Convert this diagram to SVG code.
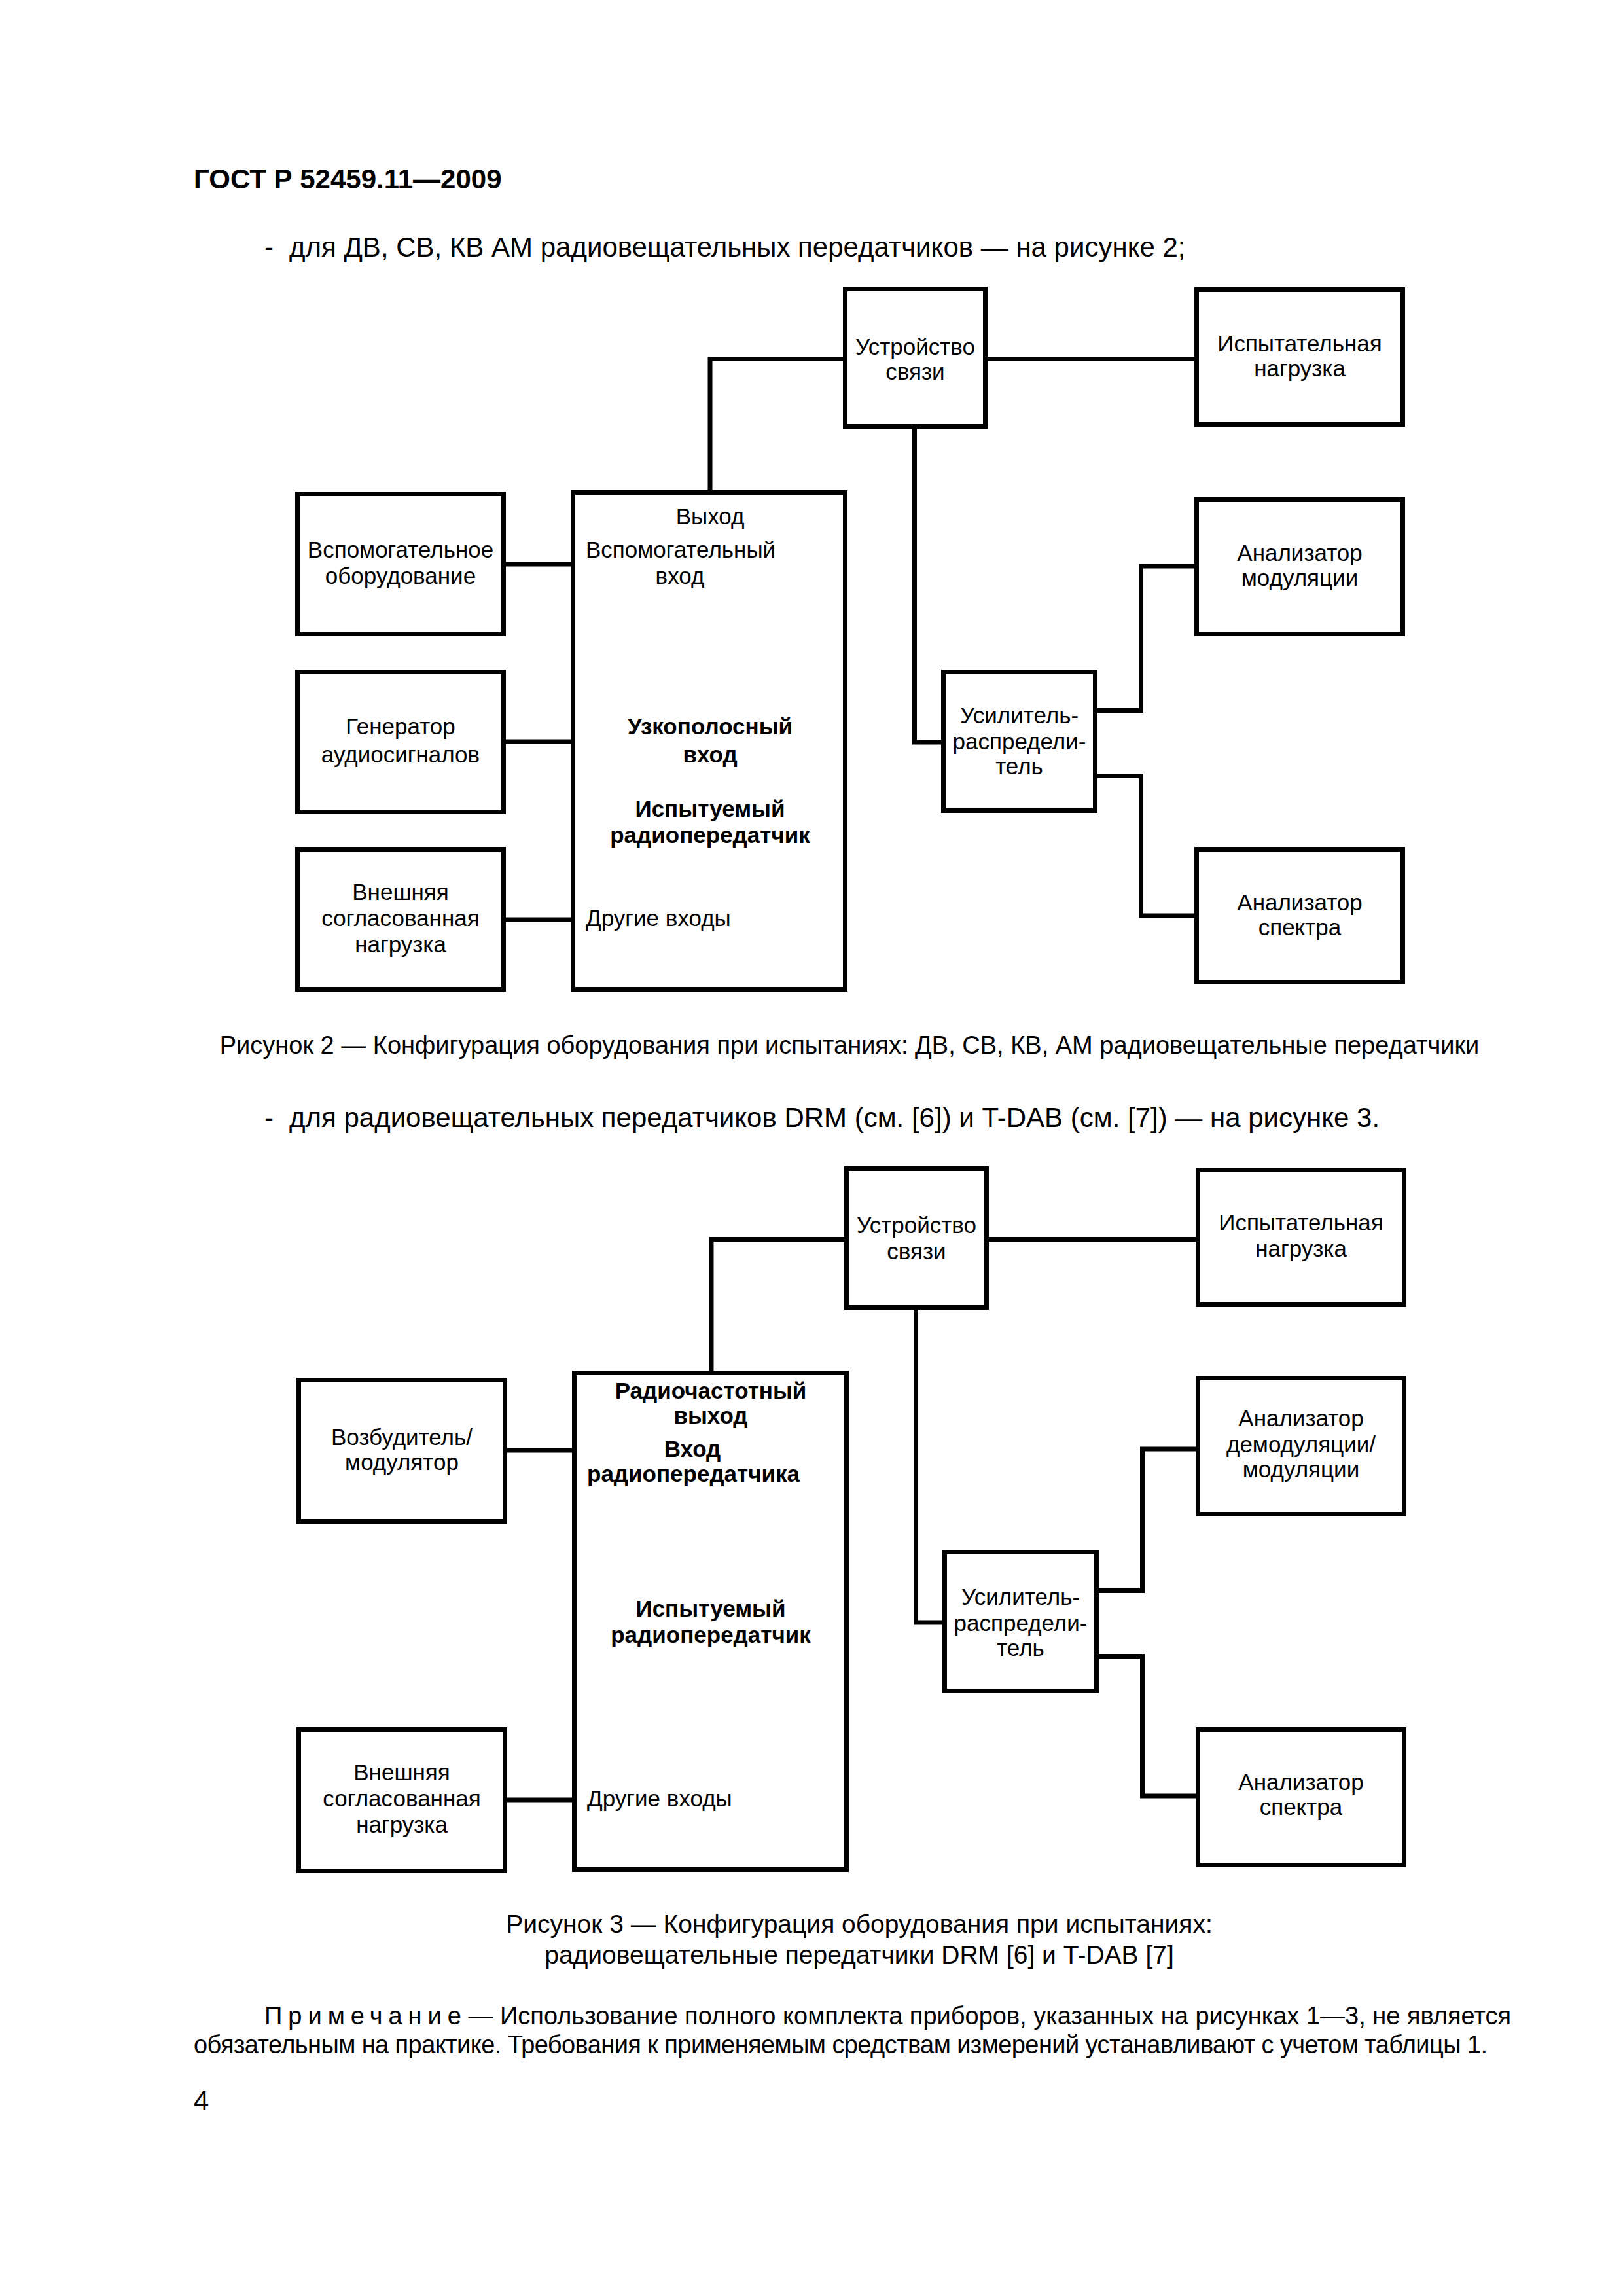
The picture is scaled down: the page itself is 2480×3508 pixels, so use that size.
<svg xmlns="http://www.w3.org/2000/svg" width="2480" height="3508" viewBox="0 0 2480 3508">
<style>
.bg{fill:#fff}
.box{fill:none;stroke:#000;stroke-width:7}
.ln{fill:none;stroke:#000;stroke-width:7;stroke-linejoin:miter;stroke-linecap:butt}
text{font-family:"Liberation Sans",Arial,sans-serif;fill:#000}
.t{font-size:35px;text-anchor:middle}
.ts{font-size:35px}
.tb{font-size:35px;text-anchor:middle;font-weight:bold}
.tbs{font-size:35px;font-weight:bold}
.body{font-size:42px}
.cap{font-size:38px}
.capc{font-size:38px;text-anchor:middle}
.capc3{font-size:39px;text-anchor:middle}
.hdr{font-size:42px;font-weight:bold}
</style>
<rect class="bg" x="0" y="0" width="2480" height="3508"/>

<text class="hdr" x="296" y="288">ГОСТ Р 52459.11—2009</text>
<text class="body" x="404" y="392">-</text>
<text class="body" x="442" y="392">для ДВ, СВ, КВ АМ радиовещательных передатчиков — на рисунке 2;</text>

<!-- Figure 2 -->
<g id="connectors-fig2">
<path class="ln" d="M1085,749 V548.5 H1288"/>
<path class="ln" d="M1509,548.5 H1825"/>
<path class="ln" d="M1397.5,655 V1134 H1438"/>
<path class="ln" d="M1677,1085.5 H1743.5 V865 H1825"/>
<path class="ln" d="M1677,1185.5 H1743.5 V1399 H1825"/>
<path class="ln" d="M773,862 H872"/>
<path class="ln" d="M773,1133 H872"/>
<path class="ln" d="M773,1405 H872"/>
</g>

<g id="f2-coupler">
<rect class="box" x="1291.5" y="441.5" width="214" height="210"/>
<text class="t" x="1398.5" y="542">Устройство</text>
<text class="t" x="1398.5" y="580">связи</text>
</g>
<g id="f2-testload">
<rect class="box" x="1828.5" y="442.5" width="315" height="206"/>
<text class="t" x="1986" y="537">Испытательная</text>
<text class="t" x="1986" y="575">нагрузка</text>
</g>
<g id="f2-transmitter">
<rect class="box" x="875.5" y="752.5" width="416" height="759"/>
<text class="t" x="1085" y="801">Выход</text>
<text class="ts" x="895" y="852">Вспомогательный</text>
<text class="t" x="1039" y="892">вход</text>
<text class="tb" x="1085" y="1122">Узкополосный</text>
<text class="tb" x="1085" y="1165">вход</text>
<text class="tb" x="1085" y="1248">Испытуемый</text>
<text class="tb" x="1085" y="1288">радиопередатчик</text>
<text class="ts" x="895" y="1415">Другие входы</text>
</g>
<g id="f2-aux">
<rect class="box" x="454.5" y="754.5" width="315" height="214"/>
<text class="t" x="612" y="852">Вспомогательное</text>
<text class="t" x="612" y="892">оборудование</text>
</g>
<g id="f2-generator">
<rect class="box" x="454.5" y="1026.5" width="315" height="214"/>
<text class="t" x="612" y="1122">Генератор</text>
<text class="t" x="612" y="1165">аудиосигналов</text>
</g>
<g id="f2-extload">
<rect class="box" x="454.5" y="1297.5" width="315" height="214"/>
<text class="t" x="612" y="1375">Внешняя</text>
<text class="t" x="612" y="1415">согласованная</text>
<text class="t" x="612" y="1455">нагрузка</text>
</g>
<g id="f2-modanalyzer">
<rect class="box" x="1828.5" y="763.5" width="315" height="205"/>
<text class="t" x="1986" y="857">Анализатор</text>
<text class="t" x="1986" y="895">модуляции</text>
</g>
<g id="f2-splitter">
<rect class="box" x="1441.5" y="1026.5" width="232" height="212"/>
<text class="t" x="1557.5" y="1105">Усилитель-</text>
<text class="t" x="1557.5" y="1145">распредели-</text>
<text class="t" x="1557.5" y="1183">тель</text>
</g>
<g id="f2-spectrum">
<rect class="box" x="1828.5" y="1297.5" width="315" height="203"/>
<text class="t" x="1986" y="1391">Анализатор</text>
<text class="t" x="1986" y="1429">спектра</text>
</g>

<text class="capc" x="1298" y="1610">Рисунок 2 — Конфигурация оборудования при испытаниях: ДВ, СВ, КВ, АМ радиовещательные передатчики</text>

<text class="body" x="404" y="1722">-</text>
<text class="body" x="442" y="1722">для радиовещательных передатчиков DRM (см. [6]) и T-DAB (см. [7]) — на рисунке 3.</text>

<!-- Figure 3 -->
<g id="connectors-fig3">
<path class="ln" d="M1087,2094 V1893.5 H1290"/>
<path class="ln" d="M1511,1893.5 H1827"/>
<path class="ln" d="M1399.5,2001 V2479 H1440"/>
<path class="ln" d="M1679,2430.5 H1745.5 V2214 H1827"/>
<path class="ln" d="M1679,2530.5 H1745.5 V2744 H1827"/>
<path class="ln" d="M775,2216 H874"/>
<path class="ln" d="M775,2750 H874"/>
</g>

<g id="f3-coupler">
<rect class="box" x="1293.5" y="1785.5" width="214" height="212"/>
<text class="t" x="1400.5" y="1884">Устройство</text>
<text class="t" x="1400.5" y="1924">связи</text>
</g>
<g id="f3-testload">
<rect class="box" x="1830.5" y="1787.5" width="315" height="206"/>
<text class="t" x="1988" y="1880">Испытательная</text>
<text class="t" x="1988" y="1920">нагрузка</text>
</g>
<g id="f3-transmitter">
<rect class="box" x="877.5" y="2097.5" width="416" height="759"/>
<text class="tb" x="1086" y="2137">Радиочастотный</text>
<text class="tb" x="1086" y="2175">выход</text>
<text class="tb" x="1058" y="2226">Вход</text>
<text class="tbs" x="897" y="2264">радиопередатчика</text>
<text class="tb" x="1086" y="2470">Испытуемый</text>
<text class="tb" x="1086" y="2510">радиопередатчик</text>
<text class="ts" x="897" y="2760">Другие входы</text>
</g>
<g id="f3-exciter">
<rect class="box" x="456.5" y="2108.5" width="315" height="216"/>
<text class="t" x="614" y="2208">Возбудитель/</text>
<text class="t" x="614" y="2246">модулятор</text>
</g>
<g id="f3-extload">
<rect class="box" x="456.5" y="2642.5" width="315" height="216"/>
<text class="t" x="614" y="2720">Внешняя</text>
<text class="t" x="614" y="2760">согласованная</text>
<text class="t" x="614" y="2800">нагрузка</text>
</g>
<g id="f3-demodanalyzer">
<rect class="box" x="1830.5" y="2105.5" width="315" height="208"/>
<text class="t" x="1988" y="2179">Анализатор</text>
<text class="t" x="1988" y="2219">демодуляции/</text>
<text class="t" x="1988" y="2257">модуляции</text>
</g>
<g id="f3-splitter">
<rect class="box" x="1443.5" y="2371.5" width="232" height="212"/>
<text class="t" x="1559.5" y="2452">Усилитель-</text>
<text class="t" x="1559.5" y="2492">распредели-</text>
<text class="t" x="1559.5" y="2530">тель</text>
</g>
<g id="f3-spectrum">
<rect class="box" x="1830.5" y="2642.5" width="315" height="207"/>
<text class="t" x="1988" y="2735">Анализатор</text>
<text class="t" x="1988" y="2773">спектра</text>
</g>

<text class="capc3" x="1313" y="2953">Рисунок 3 — Конфигурация оборудования при испытаниях:</text>
<text class="capc3" x="1313" y="3000">радиовещательные передатчики DRM [6] и T-DAB [7]</text>

<text class="cap" x="404" y="3093" textLength="1905" lengthAdjust="spacing"><tspan letter-spacing="9">Примечани</tspan>е — Использование полного комплекта приборов, указанных на рисунках 1—3, не является</text>
<text class="cap" x="296" y="3137" textLength="1977" lengthAdjust="spacing">обязательным на практике. Требования к применяемым средствам измерений устанавливают с учетом таблицы 1.</text>

<text class="body" x="296" y="3224">4</text>
</svg>
